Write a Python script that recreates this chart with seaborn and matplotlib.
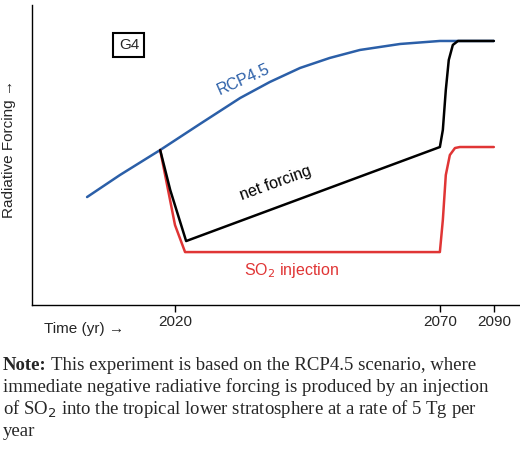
import matplotlib
matplotlib.use("Agg")
import matplotlib.pyplot as plt
import seaborn as sns
import numpy as np

sns.set_theme(style="white")
plt.rcParams['font.family'] = ['Liberation Sans', 'DejaVu Sans']

rcp_year = [2003.4, 2009.6, 2017.2, 2024.7, 2032.3, 2037.9, 2043.6, 2049.2, 2054.9, 2062.5, 2070.0, 2090.0]
rcp_val = [108, 130, 155, 181, 207, 223, 237, 247, 255, 261, 264, 264]
net_year = [2017.2, 2019.1, 2022.1, 2070.0, 2071.1, 2072.2, 2073.3, 2074.8, 2076.7, 2090.0]
net_val = [155, 115, 64, 158, 175, 215, 245, 260, 264, 264]
so2_year = [2017.2, 2020.0, 2021.9, 2070.0, 2071.1, 2072.2, 2073.7, 2075.6, 2077.4, 2090.0]
so2_val = [155, 80, 53, 53, 85, 130, 150, 157, 158, 158]
xticks = [2020, 2070, 2090]

K = 0.5094  # schematic axis: compressed after 2070
def fwd(x):
    x = np.asarray(x, dtype=float)
    return np.where(x <= 2070, x, 2070 + (x - 2070) * K)
def inv(x):
    x = np.asarray(x, dtype=float)
    return np.where(x <= 2070, x, 2070 + (x - 2070) / K)

fig = plt.figure(figsize=(5.2, 4.5), dpi=100)
ax = fig.add_axes([0.0615, 0.322, 0.938, 0.667])
ax.set_xscale('function', functions=(fwd, inv))
sns.lineplot(x=rcp_year, y=rcp_val, ax=ax, color="#2b5fa8", lw=1.8, sort=False)
sns.lineplot(x=so2_year, y=so2_val, ax=ax, color="#e03535", lw=1.8, sort=False)
sns.lineplot(x=net_year, y=net_val, ax=ax, color="black", lw=1.8, sort=False)
ax.set_xlim(1993, 2099.6)
ax.set_ylim(0, 300)
ax.set_yticks([])
ax.set_xticks(xticks)
ax.set_xticklabels([str(t) for t in xticks], fontsize=11)
ax.minorticks_off()
ax.tick_params(axis='x', which='minor', bottom=False)
ax.tick_params(axis='x', direction='out', length=5, width=1, color='black', pad=2, bottom=True)
for s in ['top', 'right']:
    ax.spines[s].set_visible(False)
for s in ['left', 'bottom']:
    ax.spines[s].set_color('black')
    ax.spines[s].set_linewidth(1)

ax.text(2011.3, 260, "G4", fontsize=11, ha='center', va='center',
        bbox=dict(boxstyle='square,pad=0.35', fc='white', ec='black', lw=1.5))
ax.text(2033, 225, "RCP4.5", color="#2b5fa8", fontsize=11.5, rotation=24, ha='center', va='center')
ax.text(2039, 122, "net forcing", color="black", fontsize=11.5, rotation=20, ha='center', va='center')
ax.text(2042, 35, "SO$_2$ injection", color="#e03535", fontsize=11.5, ha='center', va='center')
fig.text(0.018, 0.67, "Radiative Forcing \u2192", rotation=90, fontsize=11, ha='center', va='center')
fig.text(0.085, 0.27, "Time (yr) \u2192", fontsize=11, ha='left', va='center')

serif = ['Liberation Serif', 'DejaVu Serif']
fs = 13.5
fig.text(0.005, 0.188, "Note:", fontsize=fs, family=serif, weight='bold', va='center')
fig.text(0.098, 0.188, "This experiment is based on the RCP4.5 scenario, where", fontsize=fs, family=serif, va='center')
fig.text(0.005, 0.139, "immediate negative radiative forcing is produced by an injection", fontsize=fs, family=serif, va='center')
fig.text(0.005, 0.090, "of SO$_2$ into the tropical lower stratosphere at a rate of 5 Tg per", fontsize=fs, family=serif, va='center')
fig.text(0.005, 0.041, "year", fontsize=fs, family=serif, va='center')
fig.savefig("out.png", dpi=100)
